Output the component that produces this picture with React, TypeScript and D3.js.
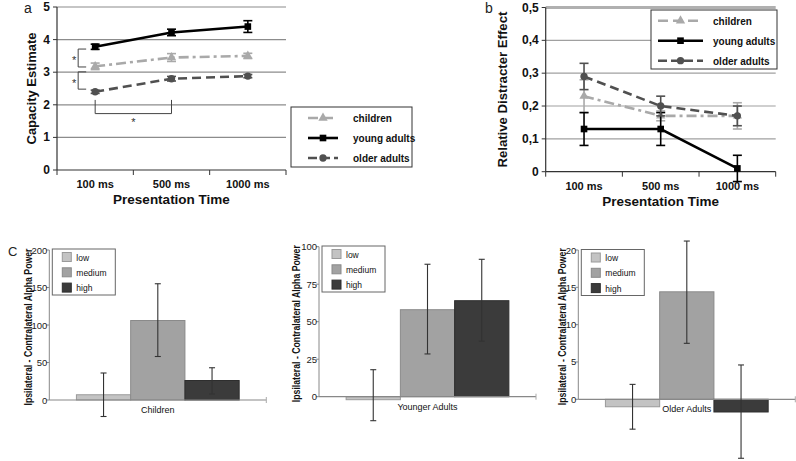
import React, { useRef, useEffect } from 'react';
import * as d3 from 'd3';

// panel a / b: categories and series
const times = ['100 ms', '500 ms', '1000 ms'];
const groups = ['children', 'young adults', 'older adults'];

const capacity = [
  [3.18, 3.45, 3.5],
  [3.78, 4.22, 4.4],
  [2.4, 2.8, 2.88],
];
const capacityErr = [
  [0.1, 0.12, 0.08],
  [0.08, 0.1, 0.18],
  [0.05, 0.07, 0.05],
];

const distracter = [
  [0.23, 0.17, 0.17],
  [0.13, 0.13, 0.01],
  [0.29, 0.2, 0.17],
];
const distracterErr = [
  [0.05, 0.015, 0.04],
  [0.05, 0.05, 0.04],
  [0.04, 0.03, 0.03],
];

const capTicks = [0, 1, 2, 3, 4, 5];
const distTicks = [0, 0.1, 0.2, 0.3, 0.4, 0.5];

// panel c: alpha power by load
const levels = ['low', 'medium', 'high'];
const barGroups = ['Children', 'Younger Adults', 'Older Adults'];
const powerMean = [
  [7, 106, 26],
  [-2, 58, 64],
  [-1, 14.4, -1.7],
];
const powerLo = [
  [-22, 58, 8],
  [-16, 28.5, 37],
  [-4, 7.5, -7.9],
];
const powerHi = [
  [36, 155, 43],
  [18, 88.3, 91.6],
  [2, 21.2, 4.6],
];
const powerMax = [200, 100, 20];
const powerTicks = [
  [0, 50, 100, 150, 200],
  [0, 25, 50, 75, 100],
  [0, 5, 10, 15, 20],
];

const FONT = 'Liberation Sans, Arial, sans-serif';

const lineStyles = [
  { color: '#a9a9a9', dash: '10,4,3,4', symbol: d3.symbolTriangle, size: 38 },
  { color: '#000000', dash: null, symbol: d3.symbolSquare, size: 44 },
  { color: '#505050', dash: '9,5', symbol: d3.symbolCircle, size: 42 },
];
const barFill = ['#c3c3c3', '#a2a2a2', '#3b3b3b'];
const barStroke = ['#9a9a9a', '#8a8a8a', '#2e2e2e'];

type Sel = d3.Selection<SVGGElement, unknown, null, undefined>;

function drawLinePanel(
  g: Sel,
  o: {
    left: number; right: number; top: number; bottom: number; max: number;
    ticks: number[]; fmt: (v: number) => string; values: number[][]; errs: number[][];
    yTitle: string; yTitleX: number; yTitleLen: number; letter: string; letterX: number; letterY: number;
    legend: { x: number; y: number; w: number; h: number; sx1: number; sx2: number; tx: number; rows: number[] };
    gridColor: string; topThick: boolean;
  }
) {
  const x = d3.scaleBand<string>().domain(times).range([o.left, o.right]);
  const y = d3.scaleLinear().domain([0, o.max]).range([o.bottom, o.top]);

  o.ticks.slice(1).forEach((t, i) => {
    const top = i === o.ticks.length - 2 && o.topThick;
    g.append('line')
      .attr('x1', o.left).attr('x2', o.right)
      .attr('y1', y(t)).attr('y2', y(t))
      .attr('stroke', top ? '#b0b0b0' : o.gridColor)
      .attr('stroke-width', top ? 3 : 1.2);
  });

  // axes
  g.append('line').attr('x1', o.left).attr('x2', o.left).attr('y1', y(o.max)).attr('y2', o.bottom)
    .attr('stroke', '#333').attr('stroke-width', 1.2);
  g.append('line').attr('x1', o.left).attr('x2', o.right).attr('y1', o.bottom).attr('y2', o.bottom)
    .attr('stroke', '#333').attr('stroke-width', 1.2);
  o.ticks.forEach(t => {
    g.append('line').attr('x1', o.left - 4).attr('x2', o.left).attr('y1', y(t)).attr('y2', y(t))
      .attr('stroke', '#333');
    g.append('text').attr('x', o.left - 7).attr('y', y(t) + 4)
      .attr('text-anchor', 'end').attr('font-size', 12).attr('font-weight', 'bold')
      .attr('font-family', FONT).attr('fill', '#111').text(o.fmt(t));
  });
  const bounds = [...times.map(c => x(c) as number), o.right];
  bounds.forEach(b => {
    g.append('line').attr('x1', b).attr('x2', b).attr('y1', o.bottom).attr('y2', o.bottom + 5)
      .attr('stroke', '#333');
  });
  times.forEach(c => {
    g.append('text').attr('x', (x(c) as number) + x.bandwidth() / 2).attr('y', o.bottom + 18)
      .attr('text-anchor', 'middle').attr('font-size', 11).attr('font-weight', 'bold')
      .attr('font-family', FONT).attr('fill', '#111').text(c);
  });
  g.append('text').attr('x', (o.left + o.right) / 2).attr('y', o.bottom + 34)
    .attr('text-anchor', 'middle').attr('font-size', 13.5).attr('font-weight', 'bold')
    .attr('font-family', FONT).attr('fill', '#111').text('Presentation Time');
  g.append('text')
    .attr('transform', `translate(${o.yTitleX},${(o.top + o.bottom) / 2}) rotate(-90)`)
    .attr('text-anchor', 'middle').attr('font-size', 13).attr('font-weight', 'bold')
    .attr('font-family', FONT).attr('fill', '#111')
    .attr('textLength', o.yTitleLen).attr('lengthAdjust', 'spacingAndGlyphs').text(o.yTitle);
  g.append('text').attr('x', o.letterX).attr('y', o.letterY)
    .attr('font-size', 14).attr('font-family', FONT).attr('fill', '#222').text(o.letter);

  const cx = (c: string) => (x(c) as number) + x.bandwidth() / 2;
  const line = d3.line<number>().x((_, i) => cx(times[i])).y(v => y(v));

  o.values.forEach((vals, s) => {
    const st = lineStyles[s];
    const p = g.append('path').attr('d', line(vals)).attr('fill', 'none')
      .attr('stroke', st.color).attr('stroke-width', 2.6);
    if (st.dash) p.attr('stroke-dasharray', st.dash);
    vals.forEach((v, i) => {
      const e = o.errs[s][i];
      const px = cx(times[i]);
      g.append('line').attr('x1', px).attr('x2', px).attr('y1', y(v - e)).attr('y2', y(v + e))
        .attr('stroke', st.color).attr('stroke-width', 1.6);
      [v - e, v + e].forEach(w => {
        g.append('line').attr('x1', px - 4.5).attr('x2', px + 4.5).attr('y1', y(w)).attr('y2', y(w))
          .attr('stroke', st.color).attr('stroke-width', 1.6);
      });
      g.append('path').attr('d', d3.symbol().type(st.symbol).size(st.size)())
        .attr('transform', `translate(${px},${y(v)})`).attr('fill', st.color);
    });
  });

  const L = o.legend;
  g.append('rect').attr('x', L.x).attr('y', L.y).attr('width', L.w).attr('height', L.h)
    .attr('fill', '#fff').attr('stroke', '#333').attr('stroke-width', 1);
  groups.forEach((name, s) => {
    const st = lineStyles[s];
    const ry = L.rows[s];
    const p = g.append('line').attr('x1', L.sx1).attr('x2', L.sx2).attr('y1', ry).attr('y2', ry)
      .attr('stroke', st.color).attr('stroke-width', 2.6);
    if (st.dash) p.attr('stroke-dasharray', st.dash === '9,5' ? '9,4' : '10,5');
    g.append('path').attr('d', d3.symbol().type(st.symbol).size(st.size)())
      .attr('transform', `translate(${(L.sx1 + L.sx2) / 2},${ry})`).attr('fill', st.color);
    g.append('text').attr('x', L.tx).attr('y', ry + 4).attr('font-size', 10).attr('font-weight', 'bold')
      .attr('font-family', FONT).attr('fill', '#111').text(name);
  });

  return { x, y, cx };
}

function drawBarPanel(
  g: Sel,
  k: number,
  o: { axis: number; top: number; zero: number; titleX: number; legendY: number }
) {
  const width = 217;
  const x = d3.scaleBand<string>().domain(levels).range([o.axis, o.axis + width])
    .paddingInner(0).paddingOuter(0.5);
  const y = d3.scaleLinear().domain([0, powerMax[k]]).range([o.zero, o.top]);

  // bars
  levels.forEach((lv, i) => {
    const v = powerMean[k][i];
    g.append('rect').attr('x', x(lv) as number).attr('width', x.bandwidth())
      .attr('y', Math.min(y(v), y(0))).attr('height', Math.abs(y(v) - y(0)))
      .attr('fill', barFill[i]).attr('stroke', barStroke[i]).attr('stroke-width', 1);
  });

  g.append('line').attr('x1', o.axis).attr('x2', o.axis).attr('y1', y(powerMax[k])).attr('y2', o.zero)
    .attr('stroke', '#888').attr('stroke-width', 1);
  g.append('line').attr('x1', o.axis).attr('x2', o.axis + width).attr('y1', o.zero).attr('y2', o.zero)
    .attr('stroke', '#888').attr('stroke-width', 1.2);
  powerTicks[k].forEach(t => {
    g.append('line').attr('x1', o.axis - 3).attr('x2', o.axis).attr('y1', y(t)).attr('y2', y(t))
      .attr('stroke', '#888');
    g.append('text').attr('x', o.axis - 2).attr('y', y(t) + 3.5).attr('text-anchor', 'end')
      .attr('font-size', 9.5).attr('font-family', FONT).attr('fill', '#222').text(t);
  });
  g.append('line').attr('x1', o.axis + width).attr('x2', o.axis + width).attr('y1', o.zero - 3).attr('y2', o.zero + 3)
    .attr('stroke', '#aaa');

  // error bars
  levels.forEach((lv, i) => {
    const px = (x(lv) as number) + x.bandwidth() / 2;
    const lo = powerLo[k][i];
    const hi = powerHi[k][i];
    g.append('line').attr('x1', px).attr('x2', px).attr('y1', y(lo)).attr('y2', y(hi))
      .attr('stroke', '#333').attr('stroke-width', 1.1);
    [lo, hi].forEach(w => {
      g.append('line').attr('x1', px - 3).attr('x2', px + 3).attr('y1', y(w)).attr('y2', y(w))
        .attr('stroke', '#333').attr('stroke-width', 1.1);
    });
  });

  g.append('text').attr('x', x('medium') as number + x.bandwidth() / 2).attr('y', o.zero + 13)
    .attr('text-anchor', 'middle').attr('font-size', 9).attr('font-family', FONT).attr('fill', '#111')
    .text(barGroups[k]);

  g.append('text')
    .attr('transform', `translate(${o.titleX},${(o.top + o.zero) / 2 + 2}) rotate(-90)`)
    .attr('text-anchor', 'middle').attr('font-size', 10).attr('font-weight', 'bold')
    .attr('font-family', FONT).attr('fill', '#111')
    .attr('textLength', 157).attr('lengthAdjust', 'spacingAndGlyphs')
    .text('Ipsilateral - Contralateral Alpha Power');

  // legend
  const lx = o.axis + 3;
  g.append('rect').attr('x', lx).attr('y', o.legendY).attr('width', 63).attr('height', 46)
    .attr('fill', '#fff').attr('stroke', '#666').attr('stroke-width', 1);
  levels.forEach((lv, i) => {
    const ry = o.legendY + 8 + i * 15.3;
    g.append('rect').attr('x', lx + 10).attr('y', ry - 4.5).attr('width', 9).attr('height', 9)
      .attr('fill', barFill[i]).attr('stroke', barStroke[i]);
    g.append('text').attr('x', lx + 24).attr('y', ry + 3.5).attr('font-size', 8.5)
      .attr('font-family', FONT).attr('fill', '#111').text(lv);
  });
}

const App: React.FC = () => {
  const svgRef = useRef<SVGSVGElement>(null);

  useEffect(() => {
    if (!svgRef.current) return;
    const svg = d3.select(svgRef.current);
    svg.selectAll('*').remove();
    svg.append('rect').attr('width', 796).attr('height', 461).attr('fill', '#fff');

    // panel a
    const ga = svg.append('g') as Sel;
    const a = drawLinePanel(ga, {
      left: 57, right: 286, top: 7, bottom: 170, max: 5, ticks: capTicks, fmt: v => String(v),
      values: capacity, errs: capacityErr, yTitle: 'Capacity Estimate', yTitleX: 36, yTitleLen: 112,
      letter: 'a', letterX: 24, letterY: 13,
      legend: { x: 291, y: 107, w: 121, h: 60, sx1: 308, sx2: 338, tx: 353, rows: [118, 138, 158] },
      gridColor: '#8c8c8c', topThick: false,
    });
    // significance brackets
    const bx = a.cx(times[0]) - 17;
    const brackets = [
      [3.71, 3.16],
      [3.01, 2.48],
    ];
    brackets.forEach(([t, b]) => {
      const p = d3.path();
      p.moveTo(bx + 8, a.y(t)); p.lineTo(bx, a.y(t)); p.lineTo(bx, a.y(b)); p.lineTo(bx + 8, a.y(b));
      ga.append('path').attr('d', p.toString()).attr('fill', 'none').attr('stroke', '#444').attr('stroke-width', 1);
      ga.append('text').attr('x', bx - 4).attr('y', a.y((t + b) / 2) + 6).attr('text-anchor', 'middle')
        .attr('font-size', 11).attr('font-family', FONT).attr('fill', '#333').text('*');
    });
    const hb = d3.path();
    const x1 = a.cx(times[0]);
    const x2 = a.cx(times[1]);
    hb.moveTo(x1, a.y(2.15)); hb.lineTo(x1, a.y(1.73)); hb.lineTo(x2, a.y(1.73)); hb.lineTo(x2, a.y(2.15));
    ga.append('path').attr('d', hb.toString()).attr('fill', 'none').attr('stroke', '#444').attr('stroke-width', 1);
    ga.append('text').attr('x', (x1 + x2) / 2).attr('y', a.y(1.73) + 12).attr('text-anchor', 'middle')
      .attr('font-size', 11).attr('font-family', FONT).attr('fill', '#333').text('*');

    // panel b
    const gb = svg.append('g') as Sel;
    drawLinePanel(gb, {
      left: 545.7, right: 775.7, top: 7.5, bottom: 171.7, max: 0.5, ticks: distTicks,
      fmt: v => (v === 0 ? '0' : d3.format('.1f')(v).replace('.', ',')),
      values: distracter, errs: distracterErr, yTitle: 'Relative Distracter Effect', yTitleX: 507, yTitleLen: 156,
      letter: 'b', letterX: 485, letterY: 13,
      legend: { x: 651, y: 10, w: 126, h: 59, sx1: 658, sx2: 703, tx: 713, rows: [20.7, 40.7, 60.7] },
      gridColor: '#a0a0a0', topThick: true,
    });

    // panel c
    const gc = svg.append('g') as Sel;
    gc.append('text').attr('x', 8).attr('y', 256).attr('font-size', 13).attr('font-family', FONT)
      .attr('fill', '#222').text('C');
    drawBarPanel(gc, 0, { axis: 49.3, top: 250, zero: 400, titleX: 32, legendY: 249 });
    drawBarPanel(gc, 1, { axis: 319, top: 246.7, zero: 396.7, titleX: 300, legendY: 246 });
    drawBarPanel(gc, 2, { axis: 578.3, top: 250, zero: 399.3, titleX: 566, legendY: 249.5 });
  }, []);

  return (
    <svg ref={svgRef} width={796} height={461}
      style={{ position: 'absolute', left: 0, top: 0, display: 'block' }} />
  );
};

export default App;
